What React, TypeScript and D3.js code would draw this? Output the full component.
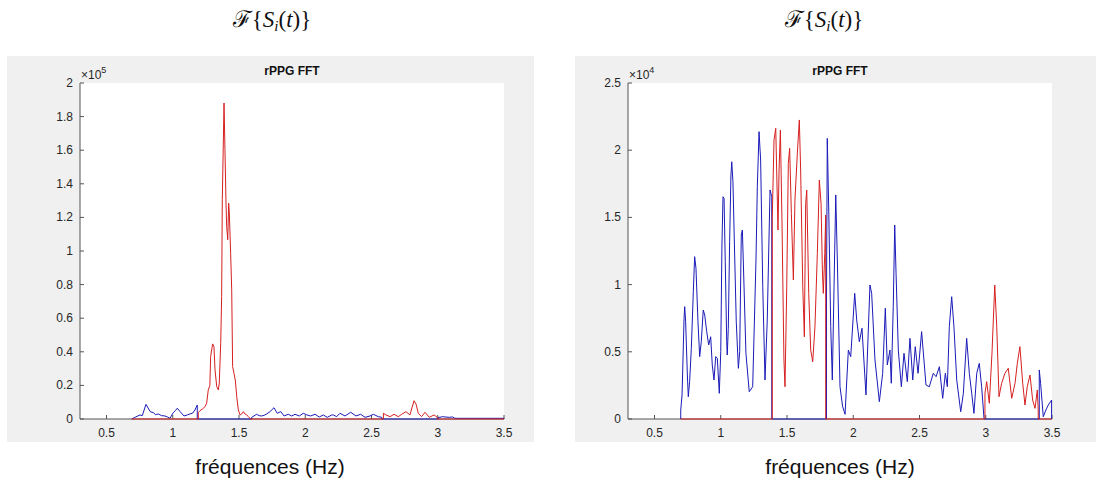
import React from 'react';
import * as d3 from 'd3';

// left spectrum, values in units of 1e5
const leftFreq = [
  0.69, 0.72, 0.753, 0.77, 0.798, 0.83, 0.853, 0.87, 0.891, 0.915, 0.941, 0.96, 0.979, 1.004, 1.02, 1.034, 1.055,
  1.085, 1.11, 1.13, 1.15, 1.168, 1.185,
  1.193, 1.206, 1.225, 1.243, 1.256, 1.268, 1.28, 1.286, 1.301, 1.311, 1.319, 1.332, 1.344, 1.351, 1.362, 1.369,
  1.374, 1.387, 1.394, 1.402, 1.407, 1.415, 1.422, 1.427, 1.437, 1.445, 1.452, 1.462, 1.472, 1.483, 1.495, 1.508,
  1.52, 1.533, 1.545, 1.558, 1.57, 1.583,
  1.596, 1.633, 1.652, 1.671, 1.69, 1.709, 1.734, 1.764, 1.789, 1.815, 1.84, 1.872, 1.898, 1.923, 1.955, 1.985,
  2.01, 2.04, 2.074, 2.106, 2.136, 2.166, 2.2, 2.212, 2.237, 2.262, 2.3, 2.343, 2.383, 2.418, 2.451, 2.489, 2.514,
  2.551, 2.577,
  2.59, 2.609, 2.64, 2.67, 2.702, 2.728, 2.76, 2.79, 2.821, 2.836, 2.853, 2.878, 2.904, 2.936, 2.972, 2.997,
  3.005, 3.017, 3.035, 3.055, 3.087, 3.113, 3.13, 3.5,
];
const leftVal = [
  0, 0.012, 0.024, 0.02, 0.087, 0.044, 0.038, 0.026, 0.03, 0.02, 0.018, 0.012, 0.004, 0.038, 0.05, 0.064, 0.044,
  0.018, 0.024, 0.03, 0.035, 0.054, 0.083,
  0.038, 0.05, 0.06, 0.073, 0.094, 0.173, 0.2, 0.371, 0.447, 0.431, 0.292, 0.193, 0.173, 0.213, 0.451, 0.729,
  1.305, 1.881, 1.603, 1.285, 1.146, 1.067, 1.285, 1.226, 0.987, 0.769, 0.312, 0.272, 0.232, 0.133, 0.054, 0.024,
  0.03, 0.044, 0.03, 0.024, 0.015, 0.004,
  0.01, 0.028, 0.02, 0.018, 0.022, 0.03, 0.044, 0.067, 0.034, 0.044, 0.018, 0.028, 0.018, 0.028, 0.018, 0.034,
  0.025, 0.018, 0.028, 0.012, 0.024, 0.01, 0.024, 0.024, 0.014, 0.034, 0.018, 0.04, 0.018, 0.028, 0.01, 0.018, 0.028,
  0.014, 0.01,
  0.034, 0.024, 0.014, 0.028, 0.014, 0.028, 0.044, 0.024, 0.109, 0.089, 0.034, 0.014, 0.04, 0.01, 0.024, 0.01,
  0.01, 0.01, 0.014, 0.012, 0.01, 0.012, 0.004, 0.004,
];
const leftBounds = [0.68, 1.19, 1.59, 2.585, 3.0, 3.51];
const leftColors = ['blue', 'red', 'blue', 'red', 'blue'];
const leftYTicks = [0, 0.2, 0.4, 0.6, 0.8, 1, 1.2, 1.4, 1.6, 1.8, 2];

// right spectrum, values in units of 1e4
const rightFreq = [
  0.698, 0.708, 0.723, 0.728, 0.735, 0.748, 0.755, 0.765, 0.778, 0.793, 0.803, 0.813, 0.828, 0.841, 0.853, 0.868,
  0.879, 0.894, 0.909, 0.924, 0.936, 0.949, 0.962, 0.974, 0.989, 1.0, 1.009, 1.017, 1.025, 1.034, 1.045, 1.049,
  1.057, 1.067, 1.077, 1.083, 1.092, 1.105, 1.117, 1.133, 1.143, 1.155, 1.163, 1.17, 1.19, 1.215, 1.241, 1.266,
  1.276, 1.289, 1.301, 1.317, 1.334, 1.351, 1.372, 1.385,
  1.389, 1.402, 1.415, 1.422, 1.432, 1.44, 1.45, 1.462, 1.477, 1.485, 1.498, 1.51, 1.52, 1.533, 1.548, 1.56, 1.578,
  1.593, 1.603, 1.619, 1.631, 1.641, 1.649, 1.664, 1.679, 1.694, 1.711, 1.729, 1.744, 1.757, 1.767, 1.774, 1.785,
  1.792,
  1.798, 1.804, 1.815, 1.83, 1.842, 1.855, 1.868, 1.88, 1.9, 1.92, 1.938, 1.963, 1.981, 2.011, 2.026, 2.046, 2.066,
  2.096, 2.126, 2.139, 2.164, 2.197, 2.222, 2.242, 2.257, 2.277, 2.287, 2.302, 2.313, 2.323, 2.34, 2.363, 2.383,
  2.408, 2.428, 2.449, 2.468, 2.489, 2.516, 2.549, 2.574, 2.604, 2.625, 2.65, 2.675, 2.695, 2.71, 2.725, 2.743, 2.76,
  2.781, 2.811, 2.831, 2.856, 2.876, 2.894, 2.911, 2.932, 2.951, 2.969, 2.987,
  2.994, 3.007, 3.027, 3.047, 3.068, 3.083, 3.1, 3.12, 3.145, 3.17, 3.196, 3.221, 3.238, 3.258, 3.279, 3.296, 3.313,
  3.334, 3.354, 3.372, 3.389, 3.396,
  3.404, 3.414, 3.434, 3.454, 3.472, 3.497,
];
const rightVal = [
  0.067, 0.179, 0.749, 0.836, 0.724, 0.327, 0.166, 0.278, 0.526, 0.947, 1.208, 1.121, 0.724, 0.464, 0.575, 0.811,
  0.774, 0.65, 0.551, 0.612, 0.402, 0.29, 0.464, 0.452, 0.191, 0.501, 1.295, 1.654, 1.642, 1.17, 0.575, 0.476,
  0.675, 1.319, 1.815, 1.914, 1.766, 1.22, 0.724, 0.377, 0.501, 1.369, 1.406, 1.183, 0.489, 0.203, 0.24, 1.183,
  1.728, 2.138, 1.927, 0.984, 0.29, 0.737, 1.704, 1.654,
  1.505, 2.076, 2.163, 1.853, 1.406, 1.853, 2.15, 1.481, 0.439, 0.24, 0.984, 1.902, 2.014, 1.53, 1.034, 1.629, 1.977,
  2.225, 1.853, 0.984, 0.612, 1.605, 1.704, 0.935, 0.513, 0.426, 0.687, 1.233, 1.778, 1.605, 1.109, 0.935, 1.233,
  1.518,
  0.9, 2.088, 1.555, 0.687, 0.29, 0.984, 1.667, 1.183, 0.24, 0.092, 0.035, 0.513, 0.464, 0.935, 0.737, 0.575, 0.675,
  0.179, 0.997, 0.935, 0.439, 0.129, 0.34, 0.824, 0.402, 0.513, 0.266, 0.836, 1.443, 1.084, 0.513, 0.24, 0.489,
  0.278, 0.6, 0.29, 0.538, 0.34, 0.65, 0.253, 0.24, 0.34, 0.315, 0.389, 0.154, 0.34, 0.24, 0.687, 0.91, 0.687,
  0.29, 0.054, 0.191, 0.6, 0.34, 0.191, 0.042, 0.34, 0.414, 0.24, 0.005,
  0.191, 0.278, 0.117, 0.489, 0.997, 0.687, 0.166, 0.266, 0.34, 0.377, 0.154, 0.266, 0.414, 0.538, 0.266, 0.104,
  0.24, 0.327, 0.141, 0.079, 0.216, 0.067,
  0.365, 0.266, 0.017, 0.067, 0.104, 0.141,
];
const rightBounds = [0.69, 1.387, 1.795, 2.99, 3.4, 3.51];
const rightColors = ['blue', 'red', 'blue', 'red', 'blue'];
const rightYTicks = [0, 0.5, 1, 1.5, 2, 2.5];

const xTicks = [0.5, 1, 1.5, 2, 2.5, 3, 3.5];

const lineColor = { blue: '#1a1ab8', red: '#d62020' };

// spectrum split in coloured pieces; the other colour sits at zero there
function piece(freq, val, bounds, colors, color) {
  const pts = [];
  for (let s = 0; s < colors.length; s++) {
    const idx = d3.range(freq.length).filter(i => freq[i] >= bounds[s] && freq[i] < bounds[s + 1]);
    if (!idx.length) continue;
    const f0 = freq[idx[0]];
    const f1 = freq[idx[idx.length - 1]];
    if (colors[s] === color) {
      pts.push([f0, 0]);
      idx.forEach(i => pts.push([freq[i], val[i]]));
      pts.push([f1, 0]);
    } else {
      pts.push([f0, 0], [f1, 0]);
    }
  }
  return pts;
}

const Formula = ({ cx }) => (
  <text x={cx} y={27} textAnchor="middle" fontFamily="'Liberation Serif', 'DejaVu Serif', serif" fontSize={23} fill="#111">
    <tspan>ℱ</tspan>
    <tspan>{'{'}</tspan>
    <tspan fontStyle="italic">S</tspan>
    <tspan fontStyle="italic" fontSize={15} dy={4}>i</tspan>
    <tspan dy={-4}>(</tspan>
    <tspan fontStyle="italic">t</tspan>
    <tspan>{')}'}</tspan>
  </text>
);

const sans = "'Liberation Sans', Arial, sans-serif";

const Panel = ({ boxX, boxW, left, freq, val, bounds, colors, yTicks, exp, labelX }) => {
  const top = 83;
  const bottom = 419;
  const x = d3.scaleLinear().domain([0.3, 3.5]).range([left, left + 424]);
  const y = d3.scaleLinear().domain([0, yTicks[yTicks.length - 1]]).range([bottom, top]);
  const line = d3.line().x(d => x(d[0])).y(d => y(d[1]));
  const fmt = t => String(+t.toFixed(1));
  const axisCol = '#555';
  const txtCol = '#262626';

  return (
    <g>
      <rect x={boxX} y={56} width={boxW} height={386} fill="#f0f0f0" />
      <rect x={left} y={top} width={424} height={bottom - top} fill="#fff" />
      <text x={left + 212} y={75} textAnchor="middle" fontFamily={sans} fontSize={12} fontWeight="bold"
        fill="#111">rPPG FFT</text>

      <line x1={left} x2={left} y1={top} y2={bottom} stroke={axisCol} />
      <line x1={left} x2={left + 424} y1={bottom} y2={bottom} stroke={axisCol} />
      {yTicks.map(t => (
        <g key={'y' + t}>
          <line x1={left} x2={left + 4} y1={y(t)} y2={y(t)} stroke={axisCol} />
          <text x={left - 7} y={y(t) + 4} textAnchor="end" fontFamily={sans} fontSize={12} fill={txtCol}>{fmt(t)}</text>
        </g>
      ))}
      {xTicks.map(t => (
        <g key={'x' + t}>
          <line x1={x(t)} x2={x(t)} y1={bottom} y2={bottom - 4} stroke={axisCol} />
          <text x={x(t)} y={437} textAnchor="middle" fontFamily={sans} fontSize={12} fill={txtCol}>{fmt(t)}</text>
        </g>
      ))}
      <text x={left + 1} y={79} fontFamily={sans} fontSize={12} fill={txtCol}>
        ×10<tspan fontSize={9} dy={-6}>{exp}</tspan>
      </text>

      {['blue', 'red'].map(c => (
        <path key={c} d={line(piece(freq, val, bounds, colors, c))} fill="none" stroke={lineColor[c]}
          strokeWidth={1} strokeLinejoin="round" />
      ))}

      <text x={labelX} y={474} textAnchor="middle" fontFamily={sans} fontSize={21} fill="#111">fréquences (Hz)</text>
    </g>
  );
};

export default function App() {
  return (
    <svg width={1096} height={487} style={{ position: 'absolute', left: 0, top: 0, background: '#fff' }}>
      <Formula cx={272} />
      <Formula cx={824} />
      <Panel boxX={7} boxW={527} left={80} freq={leftFreq} val={leftVal} bounds={leftBounds} colors={leftColors}
        yTicks={leftYTicks} exp="5" labelX={270} />
      <Panel boxX={575} boxW={530} left={628} freq={rightFreq} val={rightVal} bounds={rightBounds}
        colors={rightColors} yTicks={rightYTicks} exp="4" labelX={840} />
    </svg>
  );
}
